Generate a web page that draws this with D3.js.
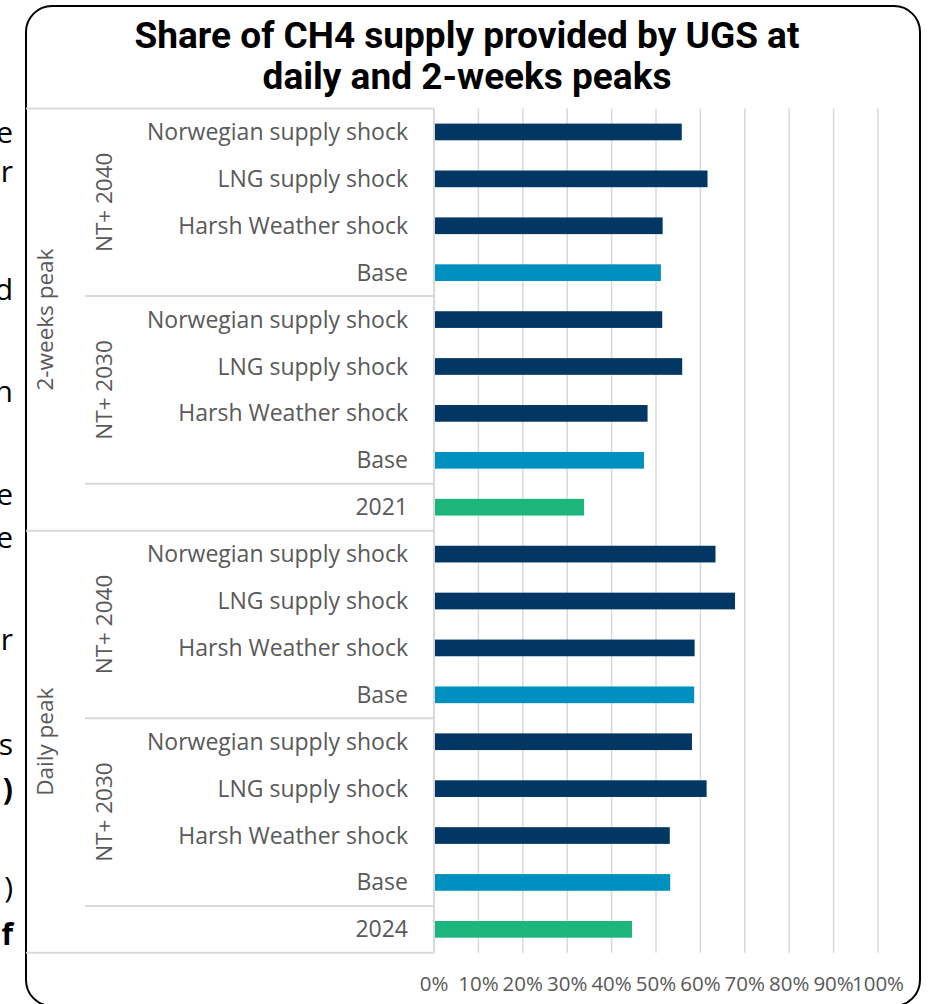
<!DOCTYPE html>
<html>
<head>
<meta charset="utf-8">
<script src="https://cdn.jsdelivr.net/npm/d3@7"></script>
<style>
  html, body { margin: 0; padding: 0; background: #ffffff; }
  svg { display: block; }
</style>
</head>
<body>
<svg id="chart" width="930" height="1004"></svg>
<script>
// Peak types (outer grouping), scenarios (middle grouping) and cases (row labels)
const peakTypes = ["2-weeks peak", "Daily peak"];
const scenarios = ["NT+ 2040", "NT+ 2030"];
const cases = ["Norwegian supply shock", "LNG supply shock", "Harsh Weather shock", "Base"];
const referenceYears = ["2021", "2024"];

// Share of CH4 supply provided by UGS (%), rows in the order drawn, top to bottom
const twoWeekValues = [55.8, 61.6, 51.5, 51.1, 51.4, 55.9, 48.1, 47.3, 33.8];
const dailyValues   = [63.4, 67.8, 58.7, 58.6, 58.1, 61.4, 53.1, 53.2, 44.6];

const tickValues = [0, 10, 20, 30, 40, 50, 60, 70, 80, 90, 100];
const titleLines = ["Share of CH4 supply provided by UGS at", "daily and 2-weeks peaks"];

const colors = { shock: "#023763", base: "#0090c0", year: "#1cb67c" };

// Flatten into rows
const rows = [];
peakTypes.forEach((peak, pi) => {
  const vals = pi === 0 ? twoWeekValues : dailyValues;
  let k = 0;
  scenarios.forEach(sc => {
    cases.forEach(c => {
      rows.push({ peak, scenario: sc, label: c, value: vals[k++],
                  kind: c === "Base" ? "base" : "shock" });
    });
  });
  rows.push({ peak, scenario: null, label: referenceYears[pi], value: vals[k++], kind: "year" });
});
rows.forEach((r, i) => r.id = i);

const svg = d3.select("#chart");
const plot = { left: 434, right: 878, top: 108.5, bottom: 952.8 };
const boxLeft = 26, midLevelX = 85;

const x = d3.scaleLinear().domain([0, 100]).range([plot.left, plot.right]);
const y = d3.scaleBand().domain(rows.map(r => r.id))
  .range([plot.top, plot.bottom]).paddingInner(0.644).paddingOuter(0.322);
const step = y.step();

// Outer rounded frame
svg.append("rect")
  .attr("x", boxLeft).attr("y", 6).attr("width", 894).attr("height", 1000)
  .attr("rx", 26).attr("ry", 26)
  .attr("fill", "#ffffff").attr("stroke", "#000000").attr("stroke-width", 2);

// Clipped letters of neighbouring text at the far left
const sideText = [
  { t: "e", y: 143, b: false }, { t: "r", y: 182, b: false }, { t: "d", y: 300, b: false },
  { t: "n", y: 402, b: false }, { t: "e", y: 505, b: false }, { t: "e", y: 548, b: false },
  { t: "r", y: 650, b: false }, { t: "s", y: 755, b: false }, { t: ")", y: 800, b: true },
  { t: ")", y: 898, b: false }, { t: "f", y: 945, b: true }
];
svg.append("defs").append("clipPath").attr("id", "sideClip")
  .append("rect").attr("x", 0).attr("y", 0).attr("width", 22).attr("height", 1004);
svg.append("g").attr("clip-path", "url(#sideClip)")
  .selectAll("text").data(sideText).join("text")
  .attr("x", 13).attr("y", d => d.y)
  .attr("text-anchor", "end")
  .attr("font-family", "'Open Sans', sans-serif")
  .attr("font-size", 30)
  .attr("font-weight", d => d.b ? 700 : 400)
  .attr("fill", "#000")
  .text(d => d.t);

// Title
svg.append("g").selectAll("text").data(titleLines).join("text")
  .attr("x", 467).attr("y", (d, i) => 48 + i * 41)
  .attr("text-anchor", "middle")
  .attr("font-family", "Roboto, sans-serif")
  .attr("font-weight", 700)
  .attr("font-size", 37)
  .attr("fill", "#000")
  .text(d => d);

// Vertical gridlines
svg.append("g").selectAll("line").data(tickValues.slice(1)).join("line")
  .attr("x1", d => x(d)).attr("x2", d => x(d))
  .attr("y1", plot.top).attr("y2", plot.bottom)
  .attr("stroke", "#d9d9d9").attr("stroke-width", 1.5);

// X axis tick labels
svg.append("g").selectAll("text").data(tickValues).join("text")
  .attr("x", d => x(d)).attr("y", 991)
  .attr("text-anchor", "middle")
  .attr("font-family", "'Open Sans', sans-serif")
  .attr("font-size", 20.5)
  .attr("fill", "#595959")
  .text(d => d3.format(".0%")(d / 100));

// Multi-level category axis separators
const lineColor = "#d9d9d9";
const seps = [];
seps.push({ yv: plot.top, x1: boxLeft });
peakTypes.forEach(peak => {
  const pr = rows.filter(r => r.peak === peak);
  scenarios.forEach(sc => {
    const sr = pr.filter(r => r.scenario === sc);
    const end = y(sr[sr.length - 1].id) + y.bandwidth() + step * 0.322;
    seps.push({ yv: end, x1: midLevelX });
  });
  const last = pr[pr.length - 1];
  seps.push({ yv: y(last.id) + y.bandwidth() + step * 0.322, x1: boxLeft });
});
svg.append("g").selectAll("line").data(seps).join("line")
  .attr("x1", d => d.x1).attr("x2", plot.left)
  .attr("y1", d => d.yv).attr("y2", d => d.yv)
  .attr("stroke", lineColor).attr("stroke-width", 2);
svg.append("line")
  .attr("x1", plot.left).attr("x2", plot.left)
  .attr("y1", plot.top).attr("y2", plot.bottom)
  .attr("stroke", lineColor).attr("stroke-width", 2);

// Row labels
svg.append("g").selectAll("text").data(rows).join("text")
  .attr("x", 408).attr("y", d => y(d.id) + y.bandwidth() / 2)
  .attr("dy", "0.35em")
  .attr("text-anchor", "end")
  .attr("font-family", "'Open Sans', sans-serif")
  .attr("font-size", 23)
  .attr("fill", "#595959")
  .text(d => d.label);

// Scenario labels (rotated)
const scenarioGroups = [];
peakTypes.forEach(peak => {
  scenarios.forEach(sc => {
    const sr = rows.filter(r => r.peak === peak && r.scenario === sc);
    const c = (y(sr[0].id) + y(sr[sr.length - 1].id) + y.bandwidth()) / 2;
    scenarioGroups.push({ label: sc, c });
  });
});
svg.append("g").selectAll("text").data(scenarioGroups).join("text")
  .attr("transform", d => `translate(104,${d.c}) rotate(-90)`)
  .attr("dy", "0.35em")
  .attr("text-anchor", "middle")
  .attr("font-family", "'Open Sans', sans-serif")
  .attr("font-size", 22.5)
  .attr("fill", "#595959")
  .text(d => d.label);

// Peak type labels (rotated)
const peakGroups = peakTypes.map(peak => {
  const pr = rows.filter(r => r.peak === peak);
  return { label: peak, c: (y(pr[0].id) + y(pr[pr.length - 1].id) + y.bandwidth()) / 2 };
});
svg.append("g").selectAll("text").data(peakGroups).join("text")
  .attr("transform", d => `translate(45,${d.c}) rotate(-90)`)
  .attr("dy", "0.35em")
  .attr("text-anchor", "middle")
  .attr("font-family", "'Open Sans', sans-serif")
  .attr("font-size", 22.5)
  .attr("fill", "#595959")
  .text(d => d.label);

// Bars
svg.append("g").selectAll("rect").data(rows).join("rect")
  .attr("x", x(0) + 1)
  .attr("y", d => y(d.id))
  .attr("width", d => x(d.value) - x(0) - 1)
  .attr("height", y.bandwidth())
  .attr("fill", d => colors[d.kind]);
</script>
</body>
</html>
